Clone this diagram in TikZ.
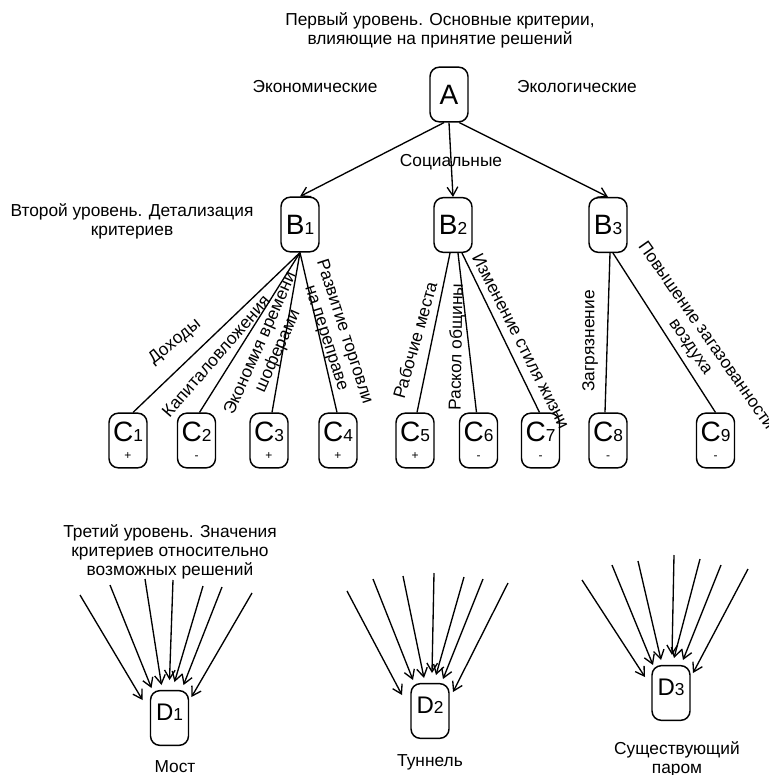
\documentclass[tikz,border=0pt]{standalone}
\usepackage{fontspec}
\setmainfont{Liberation Sans}
\usetikzlibrary{arrows.meta,calc}
\newcommand\sbs[1]{{\fontsize{13}{13.5}\selectfont #1}}
\newcommand\sgn[1]{{\fontsize{9}{13.5}\selectfont #1}}
\begin{document}
\begin{tikzpicture}[x=0.75pt,y=-0.75pt,
  box/.style={draw, line width=1.1pt, rounded corners=7pt, minimum width=28.5pt,
    minimum height=41pt, inner sep=0pt},
  big/.style={font=\fontsize{21}{13.5}\selectfont, align=center},
  dfont/.style={font=\fontsize{18}{20}\selectfont, text height=13pt, text depth=9.5pt},
  lab/.style={font=\fontsize{13}{14.3}\selectfont, align=center, inner sep=0pt},
  con/.style={line width=1pt},
  arr/.style={line width=1pt, -{Straight Barb[length=6.5pt,width=8pt]}},
]
\useasboundingbox (0,0) rectangle (768,775);

% level texts
\node[lab] (t1) at (440,30.5) {Первый уровень. Основные критерии,\\влияющие на принятие решений};
\node[lab] (t2) at (132,221.5) {Второй уровень. Детализация\\критериев};
\node[lab] (t3) at (170,552) {Третий уровень. Значения\\критериев относительно\\возможных решений};
\node[lab] (econ) at (315,87) {Экономические};
\node[lab] (ecol) at (577,87) {Экологические};
\node[lab] (soc) at (451,162) {Социальные};

% nodes
\node[box, big] (A) at (449,94.5) {A};
\node[box, big] (B1) at (300,224.5) {B\sbs{1}};
\node[box, big] (B2) at (453,225) {B\sbs{2}};
\node[box, big] (B3) at (608,225) {B\sbs{3}};

\node[box, big] (C1) at (128,440.5) {C\sbs{1}\\\sgn{+}};
\node[box, big] (C2) at (196.5,440.5) {C\sbs{2}\\\sgn{-}};
\node[box, big] (C3) at (269,440.5) {C\sbs{3}\\\sgn{+}};
\node[box, big] (C4) at (338,440.5) {C\sbs{4}\\\sgn{+}};
\node[box, big] (C5) at (415,440.5) {C\sbs{5}\\\sgn{+}};
\node[box, big] (C6) at (478.5,440.5) {C\sbs{6}\\\sgn{-}};
\node[box, big] (C7) at (540.5,440.5) {C\sbs{7}\\\sgn{-}};
\node[box, big] (C8) at (608,440.5) {C\sbs{8}\\\sgn{-}};
\node[box, big] (C9) at (715.5,440.5) {C\sbs{9}\\\sgn{-}};

\node[box, dfont] (D1) at (169.5,718) {D\sbs{1}};
\node[box, dfont] (D2) at (430,711) {D\sbs{2}};
\node[box, dfont] (D3) at (671,693) {D\sbs{3}};

\node[lab] (m1) at (175,767) {Мост};
\node[lab] (m2) at (430,762) {Туннель};
\node[lab] (m3) at (677,759) {Существующий\\паром};

% level 1 arrows
\draw[arr] (A.260) -- (B1.north);
\draw[arr] (A.south) -- (B2.north);
\draw[arr] (A.290) -- (B3.north);

% level 2 connectors
\draw[con] (B1.south) -- ($(C1.north)+(5,0)$);
\draw[con] (B1.south) -- ($(C2.north)+(3,0)$);
\draw[con] (B1.south) -- ($(C3.north)+(3,0)$);
\draw[con] (B1.south) -- ($(C4.north)+(-1,0)$);
\draw[con] ($(B2.south)+(-3,0)$) -- ($(C5.north)+(2,0)$);
\draw[con] ($(B2.south)+(5,0)$) -- ($(C6.north)+(-2,0)$);
\draw[con] ($(B2.south)+(9,0)$) -- ($(C7.north)+(-1,0)$);
\draw[con] ($(B3.south)+(2,0)$) -- ($(C8.north)+(-3,0)$);
\draw[con] ($(B3.south)+(5,0)$) -- (C9.north);

% edge labels
\node[lab, rotate=39] (l1) at (175,342) {Доходы};
\node[lab, rotate=49] (l2) at (216,356) {Капиталовложения};
\node[lab, rotate=66] (l3) at (269.5,347.5) {Экономия времени\\шоферами};
\node[lab, rotate=-72] (l4) at (335,335) {Развитие торговли\\на переправе};
\node[lab, rotate=74] (l5) at (415,340) {Рабочие места};
\node[lab, rotate=89] (l6) at (457,347) {Раскол общины};
\node[lab, rotate=-63] (l7) at (521,341) {Изменение стиля жизни};
\node[lab, rotate=90] (l8) at (590,341) {Загрязнение};
\node[lab, rotate=-55] (l9) at (698,341.5) {Повышение загазованности\\воздуха};

% level 3 arrows
\foreach \sx/\sy/\ex/\ey [count=\i] in {80/595/-27/-18, 110/585/-18/-30, 145/579/-8/-33,
  173/580/0/-38, 203/586/5/-36, 222/587/14/-33, 252/593/22/-21}{
  \coordinate (pa\i) at (\sx,\sy);
  \draw[arr] (pa\i) -- ($(D1)+(\ex,\ey)$);
}
\foreach \sx/\sy/\ex/\ey [count=\i] in {347/591/-28/-16, 373/579/-17/-31, 403/576/-6/-33,
  434/573/2/-38, 464/577/6/-36, 483/579/13/-32, 508/583/23/-19}{
  \coordinate (pb\i) at (\sx,\sy);
  \draw[arr] (pb\i) -- ($(D2)+(\ex,\ey)$);
}
\foreach \sx/\sy/\ex/\ey [count=\i] in {582/580/-26/-16, 612/565/-18/-28, 638/561/-10/-33,
  674/555/1/-38, 700/559/3/-35, 721/565/12/-33, 748/569/22/-20}{
  \coordinate (pc\i) at (\sx,\sy);
  \draw[arr] (pc\i) -- ($(D3)+(\ex,\ey)$);
}
\end{tikzpicture}
\end{document}
